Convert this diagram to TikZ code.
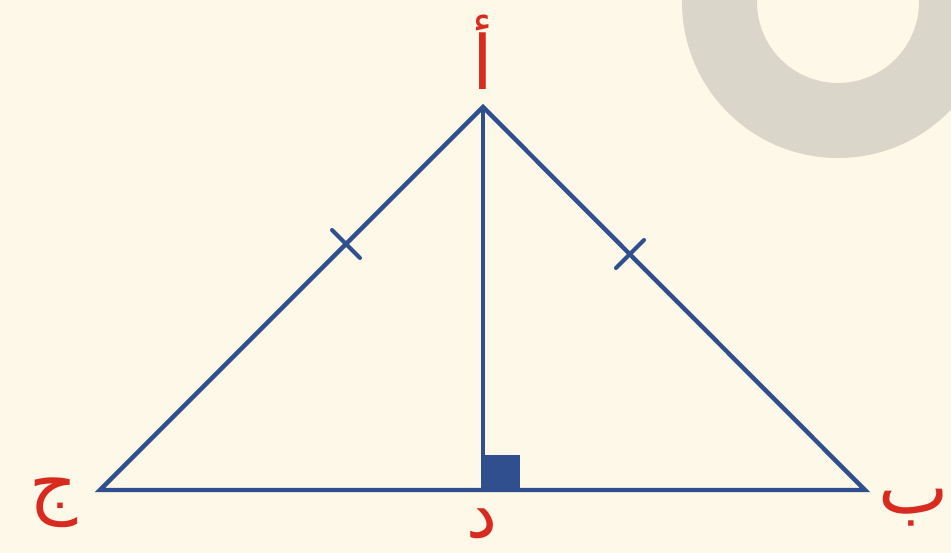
\documentclass[tikz,border=0pt]{standalone}
\usepackage{fontspec}
\usetikzlibrary{calc}
\newfontfamily\arabicfont[Script=Arabic]{DejaVu Sans}
\TeXXeTstate=1
\definecolor{bgc}{HTML}{FDF8E8}
\definecolor{ringc}{HTML}{DAD6CA}
\definecolor{edgec}{HTML}{2F4F8E}
\definecolor{labc}{HTML}{D92A1F}
\tikzset{
  edge/.style={draw=edgec, line width=3.3pt},
  tickmark/.style={draw=edgec, line width=3pt, line cap=round},
  lab/.style={text=labc, font=\arabicfont\fontsize{56}{56}\selectfont, inner sep=0pt}
}
\begin{document}
\begin{tikzpicture}[x=0.75pt, y=-0.75pt]
\fill[bgc] (0,0) rectangle (951,553);
\useasboundingbox (0,0) rectangle (951,553);
% gray ring
\fill[ringc, even odd rule] (838,2) circle[radius=156] (838,2) circle[radius=81];
% vertices
\coordinate (A) at (483,107);
\coordinate (J) at (100,490);
\coordinate (B) at (865,490);
\coordinate (D) at (483,490);
% right angle mark
\fill[edgec] (D) rectangle (520,455);
% edges
\draw[edge, line join=miter] (J) -- (A) -- (B) -- cycle;
\draw[edge] (A) -- (D);
% ticks
\coordinate (t1) at (346,244);
\coordinate (t2) at (630,254);
\draw[tickmark] ($(t1)+(-14,-14)$) -- ($(t1)+(14,14)$);
\draw[tickmark] ($(t2)+(14,-14)$) -- ($(t2)+(-14,14)$);
% labels
\node[lab] (la) at (483,52) {\beginR أ\endR};
\node[lab] (lj) at (54,503) {\beginR ج\endR};
\node[lab] (lb) at (914,508) {\beginR ب\endR};
\node[lab, font=\arabicfont\fontsize{52}{52}\selectfont] (ld) at (482,524) {\beginR د\endR};
\end{tikzpicture}
\end{document}
